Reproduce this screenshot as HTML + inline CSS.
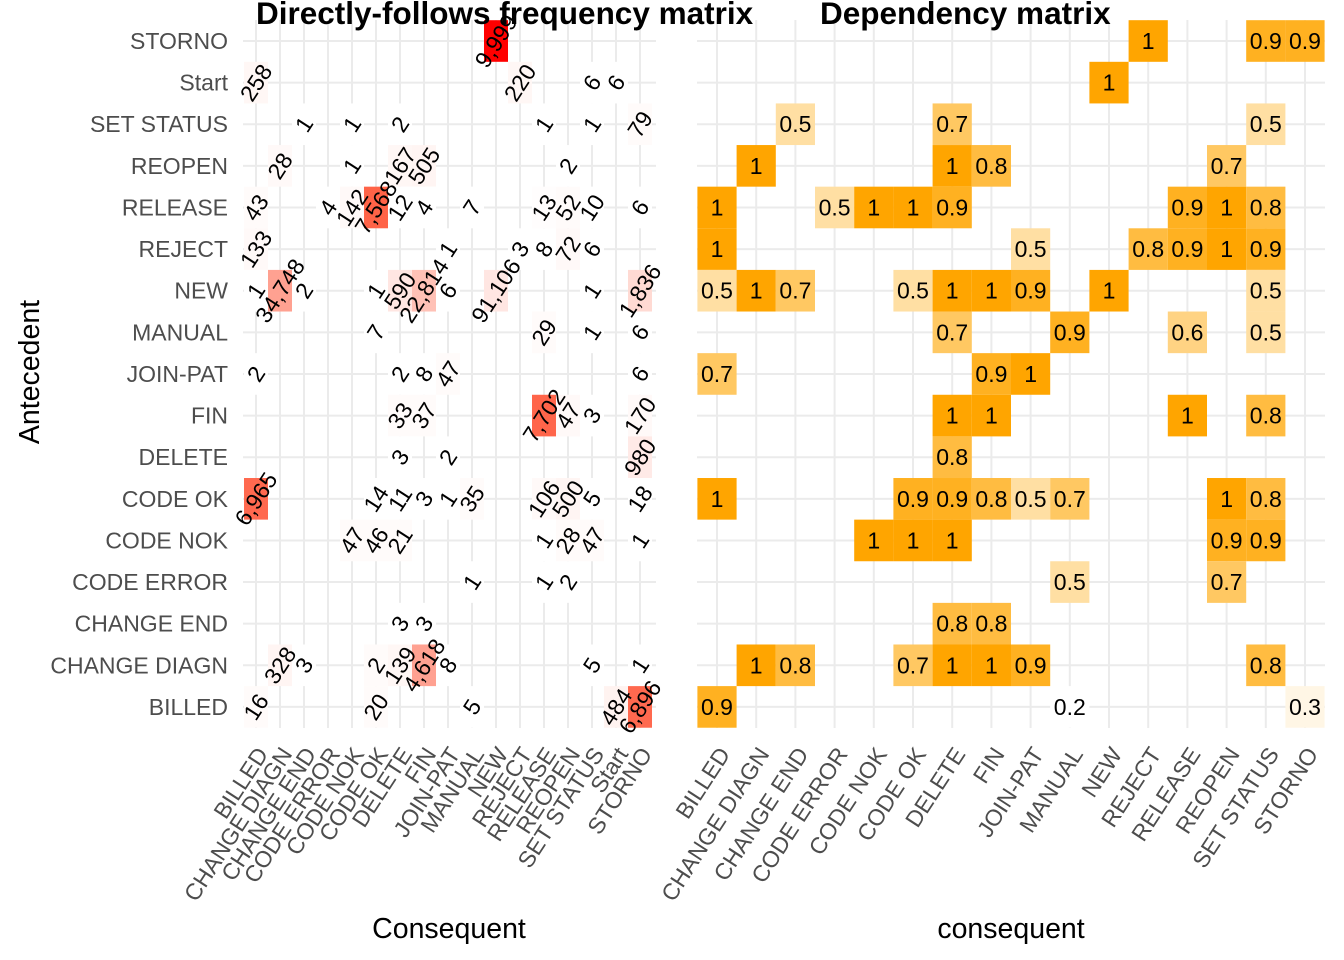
<!DOCTYPE html>
<html><head><meta charset="utf-8"><style>
body{margin:0;background:#fff;}
svg{display:block;font-family:"Liberation Sans",sans-serif;}
</style></head><body>
<svg id="chart" width="1344" height="960" viewBox="0 0 1344 960">
<g id="grid"></g><g id="tiles"></g><g id="labels"></g><g id="ticks"></g>
<text x="256" y="24" font-size="31.5" font-weight="bold" fill="#000">Directly-follows frequency matrix</text>
<text x="820" y="24" font-size="31.5" font-weight="bold" fill="#000">Dependency matrix</text>
<text x="449" y="938" font-size="28.5" text-anchor="middle" fill="#000">Consequent</text>
<text x="1011" y="938" font-size="28.5" text-anchor="middle" fill="#000">consequent</text>
<text transform="translate(39,372) rotate(-90)" font-size="28.5" text-anchor="middle" fill="#000">Antecedent</text>
</svg>
<script>
const rows = ["BILLED","CHANGE DIAGN","CHANGE END","CODE ERROR","CODE NOK","CODE OK","DELETE","FIN","JOIN-PAT","MANUAL","NEW","REJECT","RELEASE","REOPEN","SET STATUS","Start","STORNO"];
const leftCols = ["BILLED","CHANGE DIAGN","CHANGE END","CODE ERROR","CODE NOK","CODE OK","DELETE","FIN","JOIN-PAT","MANUAL","NEW","REJECT","RELEASE","REOPEN","SET STATUS","Start","STORNO"];
const rightCols = ["BILLED","CHANGE DIAGN","CHANGE END","CODE ERROR","CODE NOK","CODE OK","DELETE","FIN","JOIN-PAT","MANUAL","NEW","REJECT","RELEASE","REOPEN","SET STATUS","STORNO"];
const freqFrom = ["STORNO","Start","Start","Start","Start","SET STATUS","SET STATUS","SET STATUS","SET STATUS","SET STATUS","SET STATUS","REOPEN","REOPEN","REOPEN","REOPEN","REOPEN","RELEASE","RELEASE","RELEASE","RELEASE","RELEASE","RELEASE","RELEASE","RELEASE","RELEASE","RELEASE","RELEASE","REJECT","REJECT","REJECT","REJECT","REJECT","REJECT","NEW","NEW","NEW","NEW","NEW","NEW","NEW","NEW","NEW","NEW","MANUAL","MANUAL","MANUAL","MANUAL","JOIN-PAT","JOIN-PAT","JOIN-PAT","JOIN-PAT","JOIN-PAT","FIN","FIN","FIN","FIN","FIN","FIN","DELETE","DELETE","DELETE","CODE OK","CODE OK","CODE OK","CODE OK","CODE OK","CODE OK","CODE OK","CODE OK","CODE OK","CODE OK","CODE NOK","CODE NOK","CODE NOK","CODE NOK","CODE NOK","CODE NOK","CODE NOK","CODE ERROR","CODE ERROR","CODE ERROR","CHANGE END","CHANGE END","CHANGE DIAGN","CHANGE DIAGN","CHANGE DIAGN","CHANGE DIAGN","CHANGE DIAGN","CHANGE DIAGN","CHANGE DIAGN","CHANGE DIAGN","BILLED","BILLED","BILLED","BILLED","BILLED"];
const freqTo = ["NEW","BILLED","REJECT","SET STATUS","Start","CHANGE END","CODE NOK","DELETE","RELEASE","SET STATUS","STORNO","CHANGE DIAGN","CODE NOK","DELETE","FIN","REOPEN","BILLED","CODE ERROR","CODE NOK","CODE OK","DELETE","FIN","MANUAL","RELEASE","REOPEN","SET STATUS","STORNO","BILLED","JOIN-PAT","REJECT","RELEASE","REOPEN","SET STATUS","BILLED","CHANGE DIAGN","CHANGE END","CODE OK","DELETE","FIN","JOIN-PAT","NEW","SET STATUS","STORNO","CODE OK","RELEASE","SET STATUS","STORNO","BILLED","DELETE","FIN","JOIN-PAT","STORNO","DELETE","FIN","RELEASE","REOPEN","SET STATUS","STORNO","DELETE","JOIN-PAT","STORNO","BILLED","CODE OK","DELETE","FIN","JOIN-PAT","MANUAL","RELEASE","REOPEN","SET STATUS","STORNO","CODE NOK","CODE OK","DELETE","RELEASE","REOPEN","SET STATUS","STORNO","MANUAL","RELEASE","REOPEN","DELETE","FIN","CHANGE DIAGN","CHANGE END","CODE OK","DELETE","FIN","JOIN-PAT","SET STATUS","STORNO","BILLED","CODE OK","MANUAL","Start","STORNO"];
const freqCount = [9999,258,220,6,6,1,1,2,1,1,79,28,1,167,505,2,43,4,142,7568,12,4,7,13,52,10,6,133,1,3,8,72,6,1,34748,2,1,590,22814,6,91106,1,1836,7,29,1,6,2,2,8,47,6,33,37,7702,47,3,170,3,2,980,6965,14,11,3,1,35,106,500,5,18,47,46,21,1,28,47,1,1,1,2,3,3,328,3,2,139,4618,8,5,1,16,20,5,484,6896];
const freqShare = [1,0.04,0.04,0,0,0,0,0,0,0,0.02,0.03,0,0.04,0.05,0,0.02,0,0.03,0.75,0,0,0,0.01,0.02,0,0,0.03,0,0,0,0.03,0,0,0.45,0,0,0.12,0.3,0,0.12,0,0.18,0,0.02,0,0,0,0,0,0.02,0,0.02,0.02,0.74,0.03,0,0.03,0,0,0.1,0.72,0,0,0,0,0.02,0.03,0.05,0,0,0.02,0.02,0.02,0,0.02,0.02,0,0,0,0,0,0,0.05,0,0.02,0.04,0.45,0,0,0,0.02,0.02,0,0.06,0.72];
const depFrom = ["STORNO","STORNO","STORNO","Start","SET STATUS","SET STATUS","SET STATUS","REOPEN","REOPEN","REOPEN","REOPEN","RELEASE","RELEASE","RELEASE","RELEASE","RELEASE","RELEASE","RELEASE","RELEASE","REJECT","REJECT","REJECT","REJECT","REJECT","REJECT","NEW","NEW","NEW","NEW","NEW","NEW","NEW","NEW","NEW","MANUAL","MANUAL","MANUAL","MANUAL","JOIN-PAT","JOIN-PAT","JOIN-PAT","FIN","FIN","FIN","FIN","DELETE","CODE OK","CODE OK","CODE OK","CODE OK","CODE OK","CODE OK","CODE OK","CODE OK","CODE NOK","CODE NOK","CODE NOK","CODE NOK","CODE NOK","CODE ERROR","CODE ERROR","CHANGE END","CHANGE END","CHANGE DIAGN","CHANGE DIAGN","CHANGE DIAGN","CHANGE DIAGN","CHANGE DIAGN","CHANGE DIAGN","CHANGE DIAGN","BILLED","BILLED","BILLED"];
const depTo = ["REJECT","SET STATUS","STORNO","NEW","CHANGE END","DELETE","SET STATUS","CHANGE DIAGN","DELETE","FIN","REOPEN","BILLED","CODE ERROR","CODE NOK","CODE OK","DELETE","RELEASE","REOPEN","SET STATUS","BILLED","JOIN-PAT","REJECT","RELEASE","REOPEN","SET STATUS","BILLED","CHANGE DIAGN","CHANGE END","CODE OK","DELETE","FIN","JOIN-PAT","NEW","SET STATUS","DELETE","MANUAL","RELEASE","SET STATUS","BILLED","FIN","JOIN-PAT","DELETE","FIN","RELEASE","SET STATUS","DELETE","BILLED","CODE OK","DELETE","FIN","JOIN-PAT","MANUAL","REOPEN","SET STATUS","CODE NOK","CODE OK","DELETE","REOPEN","SET STATUS","MANUAL","REOPEN","DELETE","FIN","CHANGE DIAGN","CHANGE END","CODE OK","DELETE","FIN","JOIN-PAT","SET STATUS","BILLED","MANUAL","STORNO"];
const depValue = [1,0.9,0.9,1,0.5,0.7,0.5,1,1,0.8,0.7,1,0.5,1,1,0.9,0.9,1,0.8,1,0.5,0.8,0.9,1,0.9,0.5,1,0.7,0.5,1,1,0.9,1,0.5,0.7,0.9,0.6,0.5,0.7,0.9,1,1,1,1,0.8,0.8,1,0.9,0.9,0.8,0.5,0.7,1,0.8,1,1,1,0.9,0.9,0.5,0.7,0.8,0.8,1,0.8,0.7,1,1,0.9,0.8,0.9,0.2,0.3];

const NS="http://www.w3.org/2000/svg";
function mk(tag, attrs, parent){const e=document.createElementNS(NS,tag);for(const k in attrs)e.setAttribute(k,attrs[k]);parent.appendChild(e);return e;}
const rowH=41.62;
const FS=23;
const yPos = r => 41 + rowH*(rows.length-1-rows.indexOf(r));
const xLeft = c => 256 + 24*leftCols.indexOf(c);
const xRight = c => 717 + 39.2*rightCols.indexOf(c);
const grid=document.getElementById('grid'), tiles=document.getElementById('tiles'), labels=document.getElementById('labels'), ticks=document.getElementById('ticks');

rows.forEach(r=>{
  const l1=mk('line',{x1:243,x2:656,y1:yPos(r),y2:yPos(r),stroke:'#ebebeb','stroke-width':2},grid);
  
  
  const l2=mk('line',{x1:697,x2:1325,y1:yPos(r),y2:yPos(r),stroke:'#ebebeb','stroke-width':2},grid);
  
  
  const t=mk('text',{x:228,y:yPos(r)+8,'text-anchor':'end','font-size':FS,fill:'#4d4d4d'},ticks);
  t.textContent=r;
  
  
});
leftCols.forEach(c=>{
  const l=mk('line',{x1:xLeft(c),x2:xLeft(c),y1:20,y2:728,stroke:'#ebebeb','stroke-width':2},grid);
  
  
  const t=mk('text',{transform:`translate(${xLeft(c)+13},754) rotate(-57)`,'text-anchor':'end','font-size':FS,fill:'#4d4d4d'},ticks);
  t.textContent=c;
  
  
});
rightCols.forEach(c=>{
  const l=mk('line',{x1:xRight(c),x2:xRight(c),y1:20,y2:728,stroke:'#ebebeb','stroke-width':2},grid);
  
  
  const t=mk('text',{transform:`translate(${xRight(c)+14},754) rotate(-57)`,'text-anchor':'end','font-size':FS,fill:'#4d4d4d'},ticks);
  t.textContent=c;
  
  
});

function redScale(t){t=Math.max(0,Math.min(1,t));if(t>=0.99)return 'rgb(255,0,0)';return `rgb(255,${Math.round(255-208*t)},${Math.round(255-245*t)})`;}
function orangeScale(v){let t=(v-0.22)/0.78;t=Math.max(0,Math.min(1,t));return `rgb(255,${Math.round(255-90*t)},${Math.round(255-255*t)})`;}

freqCount.forEach((v,i)=>{
  const x=xLeft(freqTo[i]), y=yPos(freqFrom[i]);
  const r=mk('rect',{x:x-12,y:y-rowH/2,width:24,height:rowH,fill:redScale(freqShare[i])},tiles);
  
  
  const t=mk('text',{transform:`translate(${x},${y}) rotate(-57)`,'text-anchor':'middle','dominant-baseline':'central','font-size':FS,fill:'#000'},labels);
  t.textContent=v.toLocaleString('en-US');
  
  
});
depValue.forEach((v,i)=>{
  const x=xRight(depTo[i]), y=yPos(depFrom[i]);
  const r=mk('rect',{x:x-19.6,y:y-rowH/2,width:39.2,height:rowH,fill:orangeScale(v)},tiles);
  
  
  const t=mk('text',{x:x,y:y+8,'text-anchor':'middle','font-size':FS,fill:'#000'},labels);
  t.textContent=String(v);
  
  
});
</script>
</body></html>
